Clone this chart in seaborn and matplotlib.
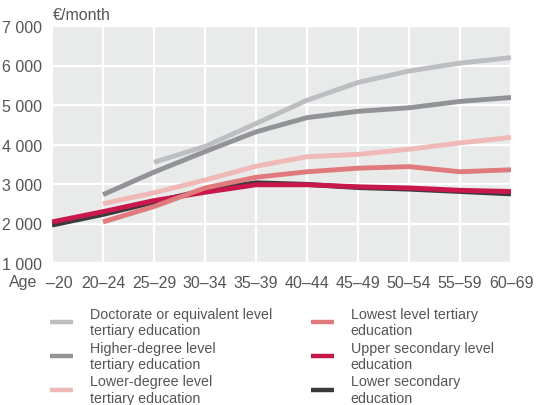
import numpy as np
import pandas as pd
import seaborn as sns
import matplotlib.pyplot as plt
import matplotlib.transforms as mtransforms
from matplotlib.lines import Line2D
from matplotlib.ticker import FuncFormatter

# age groups and monthly earnings (€/month) by education level
ages = ['–20', '20–24', '25–29', '30–34', '35–39', '40–44', '45–49', '50–54', '55–59', '60–69']
doctorate = [np.nan, np.nan, 3550, 3950, 4530, 5120, 5570, 5860, 6060, 6200]
higher_degree = [np.nan, 2730, 3300, 3820, 4320, 4680, 4840, 4930, 5090, 5190]
lower_degree = [np.nan, 2500, 2780, 3100, 3450, 3690, 3750, 3880, 4040, 4180]
lowest_tertiary = [np.nan, 2040, 2430, 2900, 3170, 3310, 3400, 3440, 3310, 3360]
upper_secondary = [2040, 2300, 2580, 2790, 2980, 2980, 2930, 2900, 2840, 2810]
lower_secondary = [1960, 2230, 2540, 2850, 3030, 2990, 2910, 2870, 2810, 2750]

labels = ['Doctorate or equivalent level\ntertiary education',
          'Higher-degree level\ntertiary education',
          'Lower-degree level\ntertiary education',
          'Lowest level tertiary\neducation',
          'Upper secondary level\neducation',
          'Lower secondary\neducation']
series = [doctorate, higher_degree, lower_degree, lowest_tertiary,
          upper_secondary, lower_secondary]
colors = ['#bdbec2', '#929397', '#f0b8b6', '#e07a7c', '#c8174a', '#3a3a3c']

df = pd.concat([pd.DataFrame({'age': ages, 'value': s, 'level': lab})
                for s, lab in zip(series, labels)], ignore_index=True)

sns.set_style('white')
plt.rcParams['font.family'] = ['Liberation Sans', 'DejaVu Sans']

fig = plt.figure(figsize=(5.38, 4.06), dpi=100)
ax = fig.add_axes([52/538, 1-264/406, (511-52)/538, (264-27)/406])
ax.set_facecolor('#e9eaea')

# draw order: bottom lines first so crimson sits on top of the dark one
draw_order = [labels[5], labels[4], labels[3], labels[2], labels[1], labels[0]]
palette = dict(zip(labels, colors))
sns.lineplot(data=df, x='age', y='value', hue='level', hue_order=draw_order,
             palette=palette, linewidth=3.5, legend=False, sort=False, ax=ax,
             solid_capstyle='butt')

ax.set_xlim(0, len(ages) - 1)
ax.set_ylim(1000, 7000)
ax.set_yticks(range(1000, 7001, 1000))
ax.yaxis.set_major_formatter(FuncFormatter(lambda v, p: f'{int(v):,}'.replace(',', ' ')))
ax.set_xticks(range(len(ages)))
ax.set_xticklabels(ages)
ax.grid(True, color='white', linewidth=1.6)
ax.set_axisbelow(True)
for sp in ax.spines.values():
    sp.set_visible(False)
ax.tick_params(length=0, labelsize=11.5, labelcolor='#555555')
ax.tick_params(axis='x', pad=9)
ax.tick_params(axis='y', pad=7)
ax.set_xlabel('')
ax.set_ylabel('')

# first age label sits a bit to the right of its tick
first = ax.get_xticklabels()[0]
first.set_transform(first.get_transform() +
                    mtransforms.ScaledTranslation(7/100, 0, fig.dpi_scale_trans))

fig.text(53/538, 1-16/406, '€/month', fontsize=11.5, color='#555555', va='center')
fig.text(9/538, 1-283/406, 'Age', fontsize=11.5, color='#555555', va='center')

handles = [Line2D([], [], color=c, linewidth=3.2, solid_capstyle='butt') for c in colors]
fig.legend(handles, labels, loc='upper left', bbox_to_anchor=(37/538, 1-295/406),
           ncol=2, frameon=False, fontsize=10.3, labelcolor='#555555',
           handlelength=1.6, handletextpad=1.2, columnspacing=2.7,
           labelspacing=0.25)

fig.savefig('out.png', dpi=100)
